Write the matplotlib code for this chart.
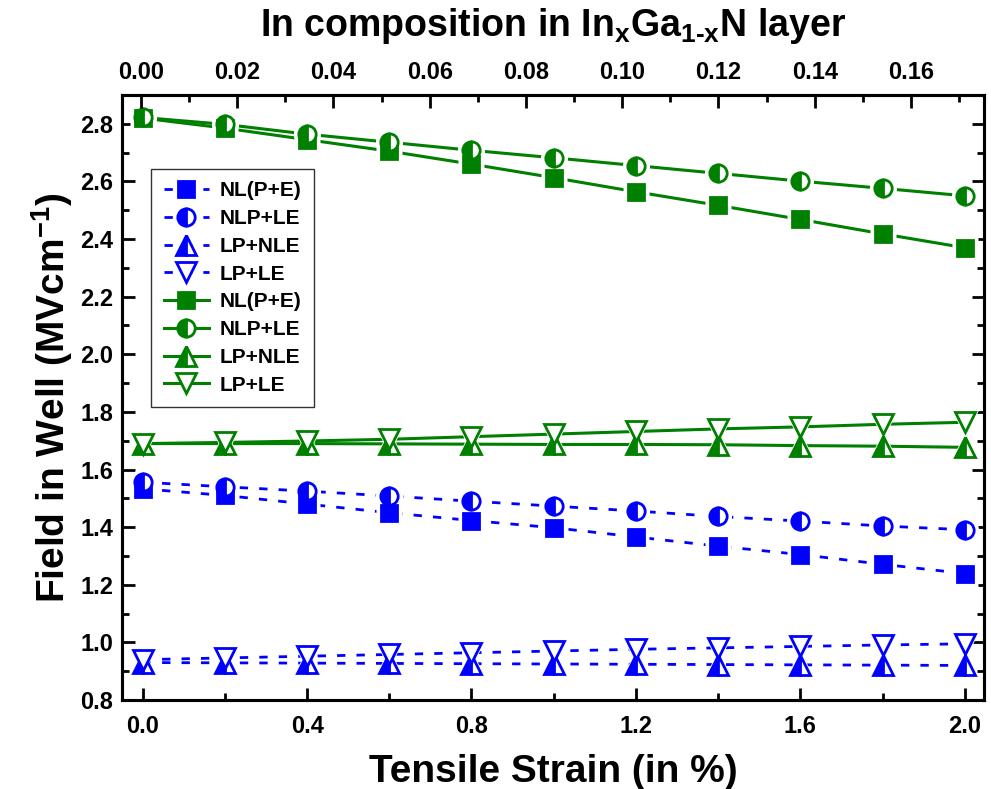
import matplotlib.pyplot as plt
from matplotlib.ticker import MultipleLocator, FormatStrFormatter

plt.rcParams['font.family'] = 'Liberation Sans'
plt.rcParams['font.weight'] = 'bold'
plt.rcParams['mathtext.fontset'] = 'custom'
plt.rcParams['mathtext.rm'] = 'Liberation Sans:bold'
plt.rcParams['mathtext.it'] = 'Liberation Sans:bold'
plt.rcParams['mathtext.bf'] = 'Liberation Sans:bold'

# tensile strain (%)
strain = [0.0, 0.2, 0.4, 0.6, 0.8, 1.0, 1.2, 1.4, 1.6, 1.8, 2.0]

# field in well (MV/cm), blue set
blue_nl = [1.533, 1.510, 1.480, 1.450, 1.423, 1.398, 1.366, 1.334, 1.305, 1.271, 1.239]
blue_nlp = [1.556, 1.540, 1.525, 1.508, 1.490, 1.473, 1.456, 1.437, 1.421, 1.404, 1.391]
blue_lpnle = [0.930, 0.929, 0.928, 0.927, 0.926, 0.925, 0.924, 0.923, 0.922, 0.921, 0.920]
blue_lple = [0.940, 0.946, 0.952, 0.958, 0.964, 0.970, 0.976, 0.981, 0.986, 0.991, 0.995]

# field in well (MV/cm), green set
green_nl = [2.820, 2.785, 2.745, 2.705, 2.660, 2.613, 2.564, 2.517, 2.468, 2.418, 2.370]
green_nlp = [2.822, 2.798, 2.764, 2.736, 2.708, 2.682, 2.655, 2.628, 2.601, 2.576, 2.550]
green_lpnle = [1.690, 1.690, 1.690, 1.689, 1.688, 1.687, 1.687, 1.686, 1.683, 1.681, 1.677]
green_lple = [1.690, 1.694, 1.699, 1.705, 1.714, 1.723, 1.732, 1.741, 1.748, 1.757, 1.764]

labels = ['NL(P+E)', 'NLP+LE', 'LP+NLE', 'LP+LE']
markers = ['s', 'o', '^', 'v']
sizes = [12, 12.5, 14, 14]

fig = plt.figure(figsize=(9.91, 7.89), dpi=100)
ax = fig.add_axes([0.1228, 0.1128, 0.8702, 0.7668])

def draw_set(ys, color, ls, lw):
    for y, lab, m, ms in zip(ys, labels, markers, sizes):
        style = dict(marker=m, ms=ms, mew=2.0, mec=color)
        if m == 'v':
            style.update(mfc='white')
        elif m in ('o', '^'):
            style.update(mfc=color, fillstyle='left', markerfacecoloralt='white')
        else:
            style.update(mfc=color)
        # line + marker (used for the legend)
        ax.plot(strain, y, ls=ls, lw=lw, color=color, label=lab, zorder=2, **style)
        # white halo so the line stops short of each marker
        ax.plot(strain, y, ls='none', marker=m, ms=ms + 7, mfc='white',
                mec='none', zorder=2.5)
        ax.plot(strain, y, ls='none', zorder=3, **style)

draw_set([blue_nl, blue_nlp, blue_lpnle, blue_lple], '#0000ff', (0, (3, 4)), 2.0)
draw_set([green_nl, green_nlp, green_lpnle, green_lple], '#008000', '-', 2.2)

ax.set_xlim(-0.051, 2.047)
ax.set_ylim(0.8, 2.9)
ax.xaxis.set_major_locator(MultipleLocator(0.4))
ax.xaxis.set_minor_locator(MultipleLocator(0.2))
ax.yaxis.set_major_locator(MultipleLocator(0.2))
ax.yaxis.set_minor_locator(MultipleLocator(0.1))
ax.xaxis.set_major_formatter(FormatStrFormatter('%.1f'))
ax.yaxis.set_major_formatter(FormatStrFormatter('%.1f'))
ax.tick_params(which='both', direction='in', top=False, right=True,
               width=2, labelsize=17)
ax.tick_params(which='major', length=9)
ax.tick_params(axis='x', which='major', pad=11)
ax.tick_params(axis='y', which='major', pad=6)
ax.tick_params(which='minor', length=5)
for sp in ax.spines.values():
    sp.set_linewidth(2.2)

ax.set_xlabel('Tensile Strain (in %)', fontsize=28, fontweight='bold', labelpad=11)
ax.set_ylabel(r'Field in Well (MVcm$^{-1}$)', fontsize=28, fontweight='bold', labelpad=4)

# In composition on the top axis
ax2 = ax.twiny()
ax2.set_xlim(-0.0040, 0.1752)
ax2.xaxis.set_major_locator(MultipleLocator(0.02))
ax2.xaxis.set_minor_locator(MultipleLocator(0.01))
ax2.xaxis.set_major_formatter(FormatStrFormatter('%.2f'))
ax2.tick_params(which='both', direction='in', width=2, labelsize=17)
ax2.tick_params(which='major', length=9, pad=8)
ax2.tick_params(which='minor', length=5)
ax2.set_xlabel(r'In composition in In$_{\mathrm{x}}$Ga$_{\text{1-x}}$N layer',
               fontsize=27, fontweight='bold', labelpad=18)
for sp in ax2.spines.values():
    sp.set_linewidth(2.2)

leg = ax.legend(loc='upper left', bbox_to_anchor=(0.034, 0.878), fontsize=15,
                frameon=True, fancybox=False, edgecolor='black',
                handlelength=2.2, labelspacing=0.42, borderpad=0.6,
                handletextpad=0.5, borderaxespad=0)
leg.get_frame().set_linewidth(1.0)
leg.set_zorder(5)

fig.savefig('out.png', dpi=100)
